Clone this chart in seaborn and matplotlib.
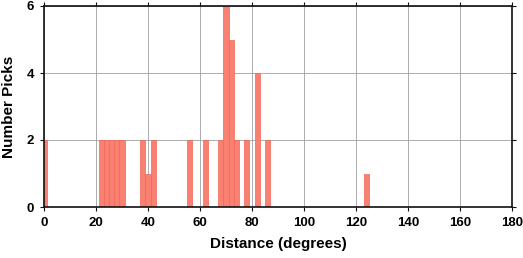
import numpy as np
import pandas as pd
import matplotlib
matplotlib.use("Agg")
import matplotlib.pyplot as plt
import seaborn as sns

# Histogram bins (centre in degrees, 2-degree bins) and number of picks
bin_centers = [0, 22, 24, 26, 28, 30, 38, 40, 42, 56, 62, 68, 70, 72, 74, 78, 82, 86, 124]
pick_counts = [2, 2, 2, 2, 2, 2, 2, 1, 2, 2, 2, 2, 6, 5, 2, 2, 4, 2, 1]
x_ticks = [0, 20, 40, 60, 80, 100, 120, 140, 160, 180]
y_ticks = [0, 2, 4, 6]

sns.set_style("white")
plt.rcParams["font.family"] = ["Liberation Sans", "DejaVu Sans"]
plt.rcParams["text.color"] = "black"
plt.rcParams["axes.labelcolor"] = "black"
plt.rcParams["xtick.color"] = "black"
plt.rcParams["ytick.color"] = "black"

df = pd.DataFrame({"distance": bin_centers, "count": pick_counts})

fig = plt.figure(figsize=(5.23, 2.58), dpi=100)
ax = fig.add_axes([44 / 523, 51 / 258, 468 / 523, 201 / 258])

sns.histplot(data=df, x="distance", weights="count", binwidth=2, binrange=(-1, 181),
             color="#fa8072", alpha=1.0, edgecolor="#f26658", linewidth=0.5,
             ax=ax, zorder=2)

ax.set_xlim(0, 180)
ax.set_ylim(0, 6)
ax.set_xticks(x_ticks)
ax.set_yticks(y_ticks)
ax.grid(True, color="#a0a0a0", linewidth=0.6, zorder=0)
ax.set_axisbelow(True)

for s in ax.spines.values():
    s.set_visible(True)
    s.set_color("#111111")
    s.set_linewidth(1.2)
    s.set_zorder(5)

ax.tick_params(axis="both", which="major", direction="out", length=3, width=0.8,
               color="#111111", bottom=True, left=True, top=True, right=True,
               labelbottom=True, labelleft=True, labeltop=False, labelright=False,
               labelsize=9.5, pad=4, labelcolor="black")
for lab in ax.get_xticklabels() + ax.get_yticklabels():
    lab.set_fontweight("bold")

ax.set_xlabel("Distance (degrees)", fontsize=11, fontweight="bold", labelpad=6, color="black")
ax.set_ylabel("Number Picks", fontsize=11, fontweight="bold", labelpad=8, color="black")

fig.savefig("out.png", dpi=100)
